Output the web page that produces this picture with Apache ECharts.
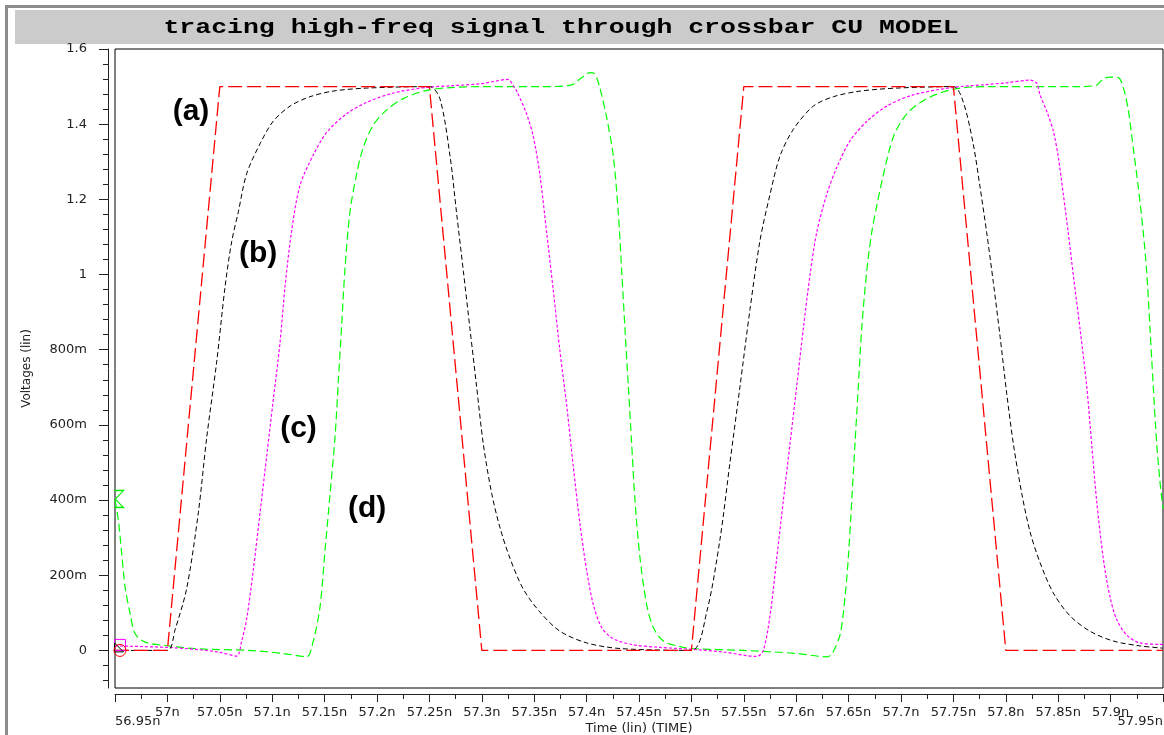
<!DOCTYPE html>
<html>
<head>
<meta charset="utf-8">
<script src="https://cdn.jsdelivr.net/npm/echarts@6/dist/echarts.min.js"></script>
<style>
html,body{margin:0;padding:0;background:#fff;}
#chart{width:1164px;height:735px;}
</style>
</head>
<body>
<div id="chart"></div>
<script>
// ---------------- data (time in ns, voltage in V) ----------------
const chartTitle = 'tracing high-freq signal through crossbar CU MODEL';
const xName = 'Time (lin) (TIME)';
const yName = 'Voltages (lin)';

const xEndLabelValues = [56.95, 57.95];
const yTickValues = [0, 0.2, 0.4, 0.6, 0.8, 1.0, 1.2, 1.4, 1.6];
const yMinorTickValues = [-0.08,-0.04,0.04,0.08,0.12,0.16,0.24,0.28,0.32,0.36,0.44,0.48,0.52,0.56,0.64,0.68,0.72,0.76,0.84,0.88,0.92,0.96,1.04,1.08,1.12,1.16,1.24,1.28,1.32,1.36,1.44,1.48,1.52,1.56];

// (a) input ramp
const timeA = [56.95, 57.0, 57.05, 57.25, 57.30, 57.50, 57.55, 57.75, 57.80, 57.95];
const voltA = [0, 0, 1.5, 1.5, 0, 0, 1.5, 1.5, 0, 0];

// (b)
const timeB = [56.95, 57.0, 57.0073, 57.0184, 57.0295, 57.0375, 57.047, 57.055, 57.0613, 57.0677, 57.0756, 57.0884, 57.101, 57.117, 57.136, 57.158, 57.19, 57.25, 57.26, 57.2697, 57.276, 57.2824, 57.2887, 57.295, 57.3014, 57.3094, 57.3174, 57.3269, 57.3396, 57.3555, 57.3746, 57.40, 57.4319, 57.50, 57.5146, 57.5273, 57.5368, 57.5464, 57.5559, 57.5655, 57.575, 57.5845, 57.5972, 57.6163, 57.6354, 57.6609, 57.6959, 57.75, 57.7595, 57.769, 57.7754, 57.7818, 57.7881, 57.7945, 57.8009, 57.8072, 57.8152, 57.8231, 57.8326, 57.8453, 57.8612, 57.8803, 57.9026, 57.928, 57.95];
const voltB = [0, 0, 0.055, 0.165, 0.366, 0.566, 0.767, 0.967, 1.087, 1.167, 1.268, 1.348, 1.408, 1.448, 1.473, 1.488, 1.496, 1.5, 1.468, 1.315, 1.162, 1.009, 0.856, 0.703, 0.55, 0.418, 0.326, 0.245, 0.163, 0.102, 0.051, 0.02, 0.005, 0, 0.102, 0.296, 0.5, 0.703, 0.907, 1.091, 1.213, 1.315, 1.386, 1.448, 1.473, 1.488, 1.496, 1.5, 1.458, 1.346, 1.233, 1.111, 0.979, 0.836, 0.683, 0.55, 0.418, 0.316, 0.234, 0.153, 0.092, 0.051, 0.025, 0.012, 0.006];

// (c)
const timeC = [56.95, 57.0, 57.03, 57.05, 57.0661, 57.0709, 57.0757, 57.082, 57.0884, 57.0947, 57.101, 57.1074, 57.1122, 57.1186, 57.1265, 57.1392, 57.152, 57.1711, 57.1902, 57.2156, 57.2474, 57.27, 57.30, 57.325, 57.3305, 57.3333, 57.3428, 57.3492, 57.3555, 57.3619, 57.3682, 57.3746, 57.381, 57.3873, 57.3937, 57.40, 57.4064, 57.4144, 57.4255, 57.4446, 57.47, 57.50, 57.53, 57.5623, 57.5686, 57.575, 57.5814, 57.5877, 57.5941, 57.6005, 57.6068, 57.6132, 57.6195, 57.6291, 57.6386, 57.6514, 57.6673, 57.6863, 57.7117, 57.75, 57.78, 57.80, 57.8231, 57.8295, 57.8326, 57.839, 57.8453, 57.8501, 57.8549, 57.8596, 57.8644, 57.8708, 57.8772, 57.8819, 57.8867, 57.893, 57.8994, 57.9058, 57.9153, 57.928, 57.95];
const voltC = [0.012, 0.008, 0.002, -0.005, -0.015, 0.025, 0.085, 0.215, 0.366, 0.516, 0.666, 0.817, 0.967, 1.117, 1.237, 1.318, 1.378, 1.428, 1.458, 1.483, 1.498, 1.502, 1.508, 1.519, 1.50, 1.488, 1.427, 1.366, 1.264, 1.111, 0.958, 0.795, 0.652, 0.489, 0.336, 0.214, 0.122, 0.061, 0.031, 0.015, 0.008, 0.003, -0.004, -0.016, 0.0, 0.092, 0.245, 0.398, 0.55, 0.703, 0.856, 0.999, 1.111, 1.213, 1.284, 1.356, 1.407, 1.448, 1.478, 1.498, 1.505, 1.51, 1.517, 1.509, 1.478, 1.435, 1.382, 1.312, 1.213, 1.111, 0.999, 0.856, 0.703, 0.55, 0.398, 0.245, 0.143, 0.082, 0.041, 0.02, 0.016];

// (d)
const timeD = [56.95, 56.9532, 56.9564, 56.9596, 56.9644, 56.9691, 56.9787, 56.9978, 57.03, 57.078, 57.11, 57.1329, 57.1392, 57.1456, 57.1504, 57.1552, 57.1599, 57.1631, 57.1663, 57.1695, 57.1742, 57.1806, 57.1869, 57.1965, 57.2093, 57.2251, 57.2474, 57.27, 57.30, 57.36, 57.385, 57.3946, 57.4032, 57.408, 57.4128, 57.4192, 57.4255, 57.4303, 57.4335, 57.4366, 57.4398, 57.443, 57.4462, 57.451, 57.4573, 57.4637, 57.4732, 57.4891, 57.5003, 57.55, 57.60, 57.629, 57.6339, 57.6418, 57.6466, 57.6497, 57.653, 57.6561, 57.6593, 57.6625, 57.6673, 57.672, 57.6768, 57.6831, 57.6927, 57.7054, 57.7245, 57.75, 57.78, 57.87, 57.8867, 57.893, 57.8994, 57.9073, 57.9121, 57.9169, 57.9217, 57.9264, 57.9312, 57.9344, 57.9376, 57.9407, 57.944, 57.9471, 57.95];
const voltD = [0.40, 0.346, 0.258, 0.169, 0.098, 0.045, 0.022, 0.013, 0.004, 0.0, -0.008, -0.017, 0.025, 0.115, 0.266, 0.416, 0.566, 0.716, 0.867, 1.017, 1.167, 1.268, 1.338, 1.398, 1.438, 1.468, 1.49, 1.497, 1.5, 1.5, 1.504, 1.522, 1.537, 1.533, 1.495, 1.417, 1.315, 1.162, 1.009, 0.856, 0.703, 0.55, 0.398, 0.245, 0.122, 0.061, 0.025, 0.01, 0.005, 0.0, -0.008, -0.017, -0.01, 0.041, 0.143, 0.245, 0.398, 0.55, 0.703, 0.856, 1.009, 1.111, 1.182, 1.264, 1.366, 1.427, 1.468, 1.493, 1.5, 1.5, 1.504, 1.521, 1.525, 1.524, 1.498, 1.437, 1.335, 1.233, 1.111, 1.009, 0.856, 0.703, 0.55, 0.449, 0.377];

// curve annotations
const annText = ['(a)', '(b)', '(c)', '(d)'];
const annTime = [57.0225, 57.0865, 57.1251, 57.1905];
const annVolt = [1.434, 1.056, 0.589, 0.376];

// ---------------- chart ----------------
const X_MIN = 56.95, X_MAX = 57.95, Y_MIN = -0.1, Y_MAX = 1.6;
const FONT = 'DejaVu Sans';

function zip(ts, vs, firstItem) {
  const out = ts.map((t, i) => [t, vs[i]]);
  if (firstItem) out[0] = Object.assign({ value: out[0] }, firstItem);
  return out;
}
function fmtY(v) {
  if (Math.abs(v) < 1e-9) return '0';
  if (Math.abs(v) < 1) return Math.round(v * 1000) + 'm';
  return String(+v.toFixed(2));
}
function fmtX(v) { return (+v.toFixed(3)) + 'n'; }
const marker = (sym, size, off, color) => ({
  symbol: sym, symbolSize: size, symbolOffset: off,
  itemStyle: { color: 'transparent', borderColor: color, borderWidth: 1 }
});

const chart = echarts.init(document.getElementById('chart'), null, { renderer: 'canvas' });
chart.setOption({
  animation: false,
  backgroundColor: '#ffffff',
  graphic: [
    { type: 'rect', shape: { x: 5, y: 5, width: 1159, height: 3 }, style: { fill: '#8c8c8c' }, silent: true },
    { type: 'rect', shape: { x: 5, y: 5, width: 3, height: 730 }, style: { fill: '#8c8c8c' }, silent: true },
    { type: 'rect', shape: { x: 15, y: 10, width: 1149, height: 34 }, style: { fill: '#cbcbcb' }, silent: true },
    { type: 'text', x: 561, y: 28, scaleX: 1.325, silent: true,
      style: { text: chartTitle, font: 'bold 20px "Liberation Mono", "Courier New", monospace', fill: '#000',
               textAlign: 'center', textVerticalAlign: 'middle' } }
  ],
  grid: { left: 115, right: 1, top: 49, bottom: 47, show: true, borderColor: '#000', borderWidth: 1,
          backgroundColor: '#fff', containLabel: false, outerBoundsMode: 'none' },
  xAxis: [{
    type: 'value', min: X_MIN, max: X_MAX, interval: 0.05, offset: 6, position: 'bottom',
    axisLine: { show: true, onZero: false, lineStyle: { color: '#222', width: 1 } },
    axisTick: { show: true, length: 8, lineStyle: { color: '#222' } },
    minorTick: { show: true, splitNumber: 2, length: 5, lineStyle: { color: '#222' } },
    splitLine: { show: false }, minorSplitLine: { show: false },
    axisLabel: { show: true, margin: 12, color: '#222', fontFamily: FONT, fontSize: 13, hideOverlap: false,
      showMinLabel: false, showMaxLabel: false, formatter: fmtX },
    name: xName, nameLocation: 'middle', nameGap: 28, nameMoveOverlap: false,
    nameTextStyle: { color: '#222', fontFamily: FONT, fontSize: 13 }
  }, {
    type: 'value', min: X_MIN, max: X_MAX, offset: 6, position: 'bottom',
    axisLine: { show: false, onZero: false }, axisTick: { show: false }, splitLine: { show: false },
    axisLabel: { show: true, margin: 21, customValues: xEndLabelValues, color: '#222', fontFamily: FONT, fontSize: 13,
      hideOverlap: false, showMinLabel: true, showMaxLabel: true, alignMinLabel: 'left', alignMaxLabel: 'right', formatter: fmtX }
  }],
  yAxis: [{
    type: 'value', min: Y_MIN, max: Y_MAX, offset: 7, position: 'left',
    axisLine: { show: true, onZero: false, lineStyle: { color: '#222', width: 1 } },
    axisTick: { show: true, length: 9, customValues: yTickValues, lineStyle: { color: '#222' } },
    splitLine: { show: false },
    axisLabel: { show: true, margin: 21, customValues: yTickValues, color: '#222', fontFamily: FONT, fontSize: 13, formatter: fmtY, hideOverlap: false },
    name: yName, nameLocation: 'middle', nameRotate: 90, nameGap: 75, nameMoveOverlap: false,
    nameTextStyle: { color: '#222', fontFamily: FONT, fontSize: 12 }
  }, {
    type: 'value', min: Y_MIN, max: Y_MAX, offset: 7, position: 'left',
    axisLine: { show: false, onZero: false },
    axisTick: { show: true, length: 5, customValues: yMinorTickValues, lineStyle: { color: '#222' } },
    splitLine: { show: false },
    axisLabel: { show: false }
  }],
  series: [
    { name: 'd', type: 'line', xAxisIndex: 0, yAxisIndex: 0, symbol: 'none', showSymbol: true, smooth: 0.3, silent: true,
      lineStyle: { color: '#00ff00', width: 1.2, type: [8, 4] },
      data: zip(timeD, voltD, marker('path://M0,0 L10,0 L1,10 L10,20 L0,20', [9, 17], [4, -1], '#00ee00')) },
    { name: 'c', type: 'line', xAxisIndex: 0, yAxisIndex: 0, symbol: 'none', showSymbol: true, smooth: 0.3, silent: true,
      lineStyle: { color: '#ff00ff', width: 1.2, type: [3, 2] },
      data: zip(timeC, voltC, marker('rect', 11, [5, -1], '#ff00ff')) },
    { name: 'b', type: 'line', xAxisIndex: 0, yAxisIndex: 0, symbol: 'none', showSymbol: true, smooth: 0.3, silent: true,
      lineStyle: { color: '#000000', width: 1, type: [5, 3] },
      data: zip(timeB, voltB, marker('path://M0,0 L10,10 L0,10 Z', [9, 9], [4, -3], '#000')) },
    { name: 'a', type: 'line', xAxisIndex: 0, yAxisIndex: 0, symbol: 'none', showSymbol: true, smooth: false, silent: true,
      lineStyle: { color: '#ff0000', width: 1.3, type: [14, 5] },
      data: zip(timeA, voltA, marker('circle', 12, [5, 0], '#ff0000')) },
    { name: 'labels', type: 'scatter', xAxisIndex: 0, yAxisIndex: 0, symbol: 'circle', symbolSize: 2, silent: true,
      itemStyle: { color: 'transparent' },
      label: { show: true, position: 'inside', formatter: '{b}', color: '#000', opacity: 1,
               textBorderWidth: 0, textBorderColor: 'transparent',
               fontFamily: '"Liberation Sans", Arial, sans-serif', fontWeight: 'bold', fontSize: 30 },
      labelLayout: { hideOverlap: false },
      data: annText.map((s, i) => ({ name: s, value: [annTime[i], annVolt[i]] })) }
  ]
});
</script>
</body>
</html>
